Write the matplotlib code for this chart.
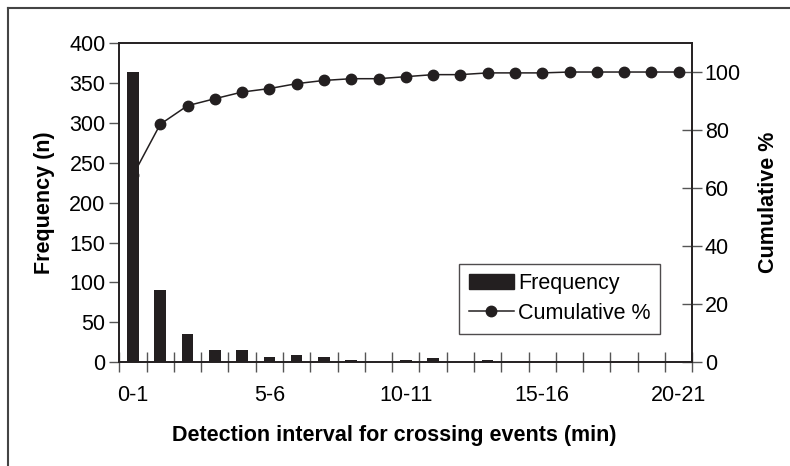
import numpy as np
import matplotlib.pyplot as plt
from matplotlib.lines import Line2D
from matplotlib.patches import Patch

plt.rcParams["font.family"] = ["Liberation Sans", "DejaVu Sans"]

# Categories: detection interval (min)
intervals = [f"{i}-{i+1}" for i in range(21)]
frequency = [364, 90, 35, 15, 15, 7, 9, 7, 3, 0, 3, 5, 0, 3, 0, 0, 0, 0, 0, 0, 0]
cumulative = [64.4, 82.0, 88.4, 90.8, 93.1, 94.3, 96.0, 97.1, 97.7, 97.7, 98.4,
              99.1, 99.1, 99.7, 99.7, 99.7, 100, 100, 100, 100, 100]
shown_labels = ["0-1", "5-6", "10-11", "15-16", "20-21"]

DARK = "#231f20"
FS = 15.5
W, H = 790, 466

fig = plt.figure(figsize=(W / 100, H / 100), dpi=100)
ax = fig.add_axes([119.3 / W, 1 - 362.3 / H, (692.3 - 119.3) / W, (362.3 - 43) / H])
ax2 = ax.twinx()

x = np.arange(len(intervals)) + 0.5
ax.bar(x, frequency, width=0.42, color=DARK, zorder=3)
ax2.plot(x, cumulative, color=DARK, lw=1.1, marker="o", ms=7.5, zorder=2)

ax.set_xlim(0, 21)
ax.set_ylim(0, 400)
ax.set_yticks(np.arange(0, 401, 50))
ax2.set_ylim(0, 110)
ax2.set_yticks(np.arange(0, 101, 20))

# boundary ticks (no labels), labels at category centres
ax.set_xticks(np.arange(0, 22))
ax.set_xticklabels([])
ax.set_xticks([x[intervals.index(s)] for s in shown_labels], minor=True)
ax.set_xticklabels(shown_labels, minor=True)
ax.tick_params(axis="x", which="major", direction="inout", length=14, width=1, color="#555555")
ax.tick_params(axis="x", which="minor", length=0, labelsize=FS, pad=16)
ax.tick_params(axis="y", direction="out", length=7, width=1, color="#555555", labelsize=FS, pad=3)
ax2.tick_params(axis="y", direction="inout", length=14, width=1, color="#555555", labelsize=FS, pad=2)

for a in (ax, ax2):
    for s in a.spines.values():
        s.set_color(DARK)
        s.set_linewidth(1.2)

ax.set_ylabel("Frequency (n)", fontsize=FS, fontweight="bold", labelpad=10)
ax2.set_ylabel("Cumulative %", fontsize=FS, fontweight="bold", labelpad=12)
ax.set_xlabel("Detection interval for crossing events (min)", fontsize=FS,
              fontweight="bold", labelpad=14)
ax.xaxis.label.set_x(0.48)

handles = [Patch(facecolor=DARK, edgecolor=DARK),
           Line2D([], [], color=DARK, lw=1.1, marker="o", ms=7.5)]
leg = ax2.legend(handles, ["Frequency", "Cumulative %"], loc="lower left",
                 bbox_to_anchor=(0.593, 0.09), fontsize=FS, frameon=True,
                 fancybox=False, edgecolor=DARK, handlelength=2.1,
                 handletextpad=0.2, borderpad=0.45, labelspacing=0.4,
                 borderaxespad=0)
leg.get_frame().set_linewidth(1.0)

# outer frame (top and left edges of the crop)
fig.add_artist(Line2D([8 / W, 1], [1 - 8 / H, 1 - 8 / H], color="#444444", lw=1.5))
fig.add_artist(Line2D([8 / W, 8 / W], [0, 1 - 8 / H], color="#444444", lw=1.5))

fig.savefig("out.png", dpi=100)
